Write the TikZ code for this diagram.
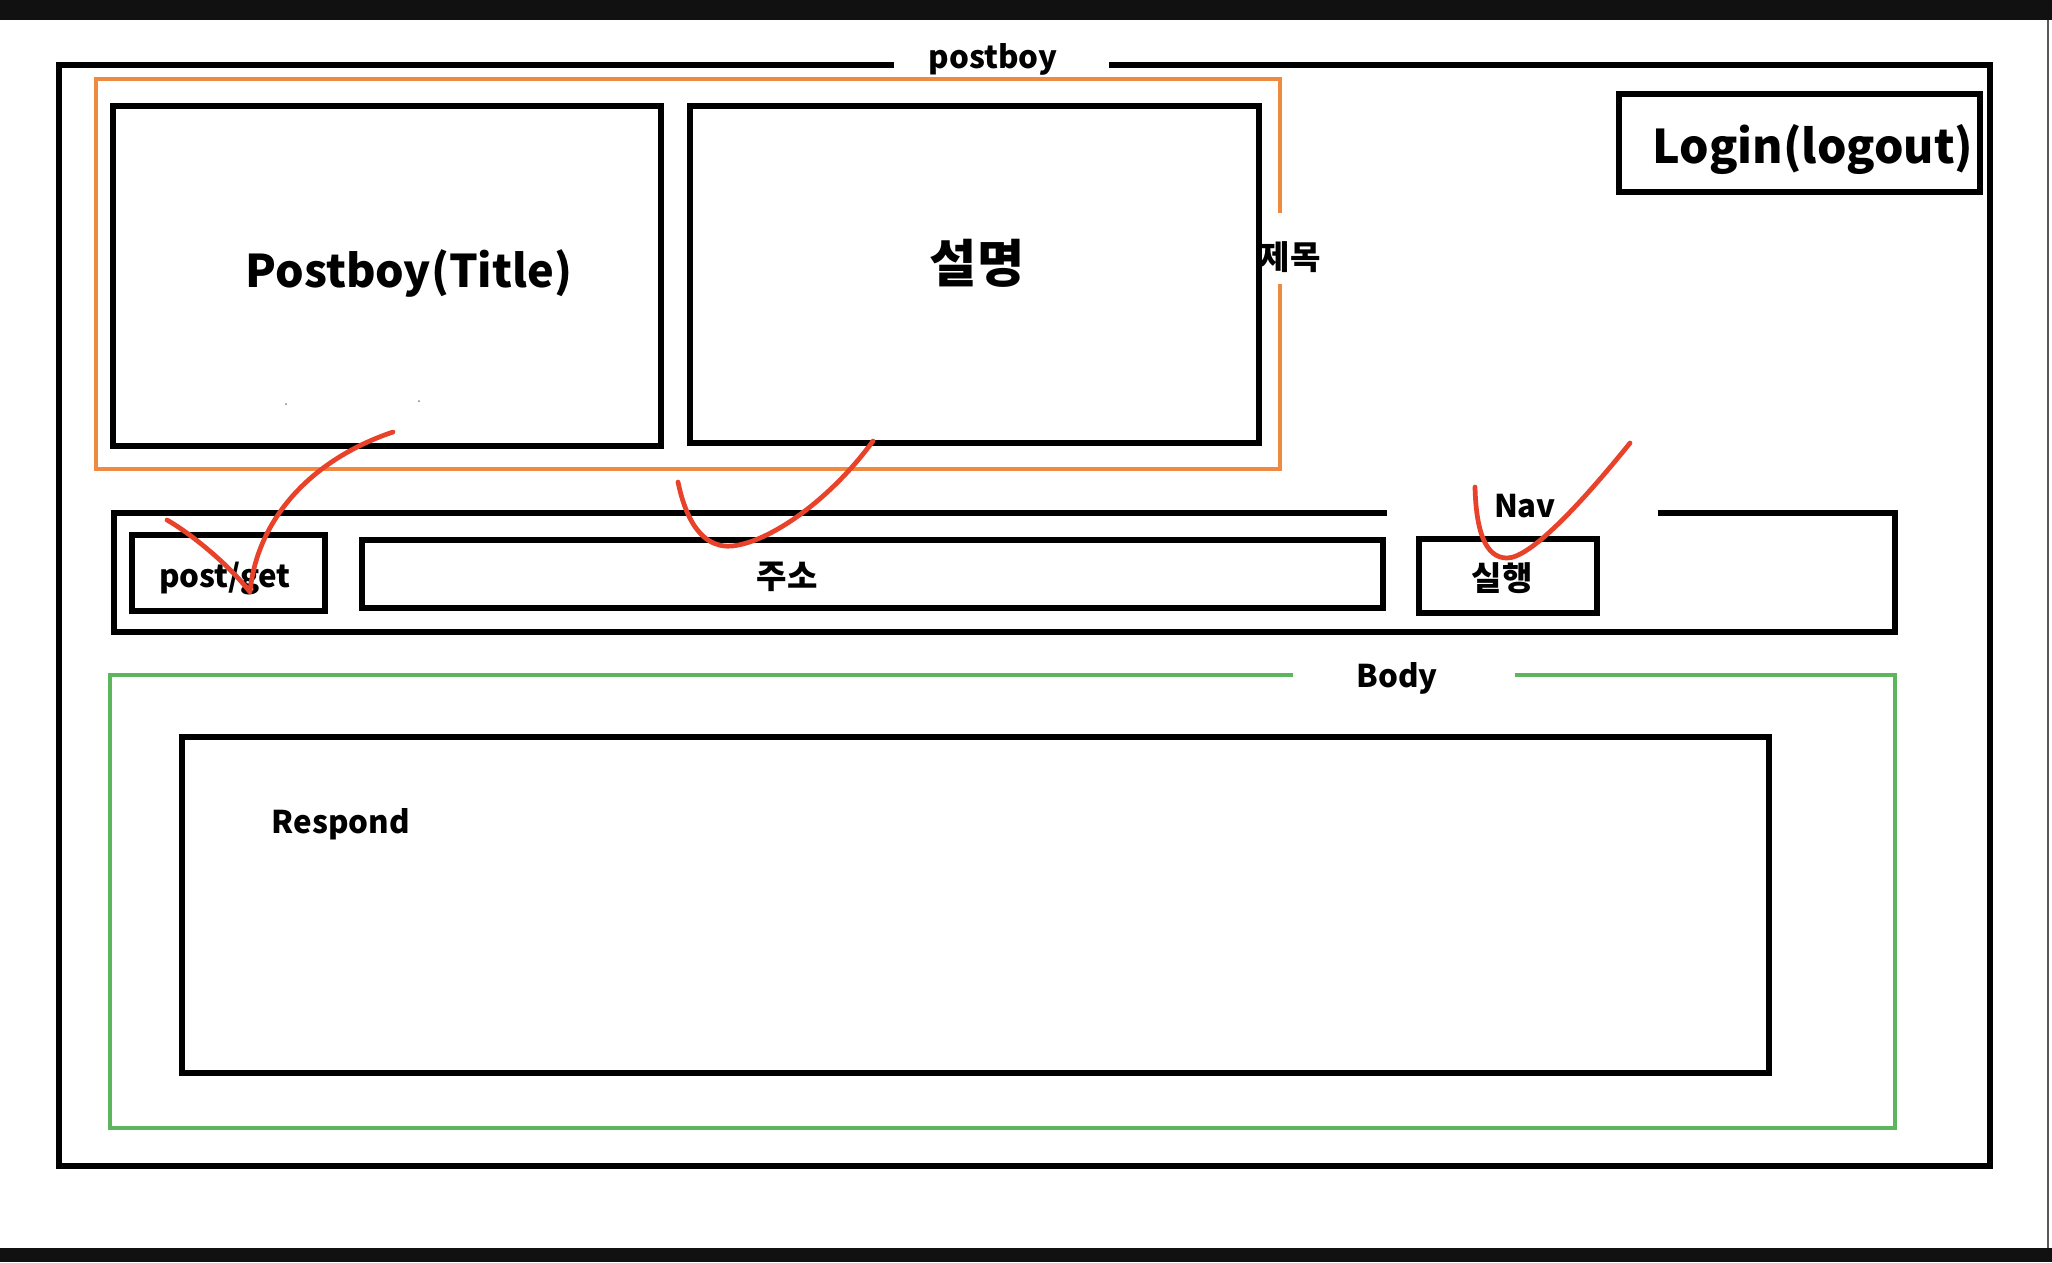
\documentclass[tikz,border=0pt]{standalone}
\usepackage{fontspec}
\setmainfont{Noto Sans CJK KR}
\definecolor{frameorange}{RGB}{240,138,64}
\definecolor{framegreen}{RGB}{93,181,93}
\definecolor{penred}{RGB}{232,66,43}
\definecolor{barblack}{RGB}{17,17,17}
\tikzset{
  blk/.style={draw=black, line width=1.55pt},
  orng/.style={draw=frameorange, line width=1.2pt},
  grn/.style={draw=framegreen, line width=1.35pt},
  pen/.style={draw=penred, line width=1.35pt, line cap=round, line join=round},
  lbl/.style={inner sep=0pt, font=\fontsize{8.9}{11}\selectfont\bfseries},
  klbl/.style={inner sep=0pt, font=\fontsize{9.4}{11}\selectfont\bfseries},
}
\begin{document}
\begin{tikzpicture}[x=0.01cm,y=-0.01cm]
\useasboundingbox (0,0) rectangle (2052,1262);
% screen bars
\fill[barblack] (0,0) rectangle (2052,20);
\fill[barblack] (0,1248) rectangle (2052,1262);
\draw[gray!70!black, line width=0.5pt] (2048,20) -- (2048,1248);
% outer frame with gap for title
\draw[blk, line width=1.6pt] (894,65) -- (59,65) -- (59,1166) -- (1990,1166) -- (1990,65) -- (1109,65);
\node[lbl, anchor=base] (ttl) at (993,68) {postboy};
% orange header frame with gap on the right
\draw[orng] (1280,213) -- (1280,79) -- (96,79) -- (96,469) -- (1280,469) -- (1280,284);
\node[klbl] (jemok) at (1290,257) {제목};
% title and description boxes
\draw[blk] (113,106) rectangle (661,446);
\node[inner sep=0pt, font=\fontsize{12.8}{15}\selectfont\bfseries, anchor=base] (title) at (409,287) {Postboy(Title)};
\draw[blk] (690,106) rectangle (1259,443);
\node[inner sep=0pt, font=\fontsize{14.6}{17}\selectfont\bfseries] (desc) at (977,263) {설명};
% login
\draw[blk] (1619,94) rectangle (1980,192);
\node[inner sep=0pt, font=\fontsize{13.2}{16}\selectfont\bfseries, anchor=base] (login) at (1813,163) {Login(logout)};
% tiny specks
\fill[gray] (286,404) circle (1);
\fill[gray] (419,401) circle (1);
% nav frame
\draw[blk] (1387,513) -- (114,513) -- (114,632) -- (1895,632) -- (1895,513) -- (1658,513);
\node[lbl, anchor=base] (nav) at (1525,517) {Nav};
\draw[blk] (132,535) rectangle (325,611);
\node[lbl, anchor=base] (method) at (225,587) {post/get};
\draw[blk] (362,540) rectangle (1383,608);
\node[klbl] (addr) at (787,577) {주소};
\draw[blk] (1419,539) rectangle (1597,613);
\node[klbl] (run) at (1502,578) {실행};
% body frame
\draw[grn] (1293,675) -- (110,675) -- (110,1128) -- (1895,1128) -- (1895,675) -- (1515,675);
\node[lbl, anchor=base] (body) at (1397,687) {Body};
\draw[blk] (182,737) rectangle (1769,1073);
\node[lbl, anchor=base] (resp) at (341,833) {Respond};
% red pen strokes
\draw[pen] (167,520) .. controls (185,530) and (225,560) .. (250,592)
  .. controls (257,520) and (310,460) .. (393,432);
\draw[pen] (678,482) .. controls (688,530) and (708,548) .. (732,546)
  .. controls (770,542) and (830,500) .. (873,441);
\draw[pen] (1475,487) .. controls (1476,530) and (1485,558) .. (1507,558)
  .. controls (1530,558) and (1580,505) .. (1630,443);
\end{tikzpicture}
\end{document}
